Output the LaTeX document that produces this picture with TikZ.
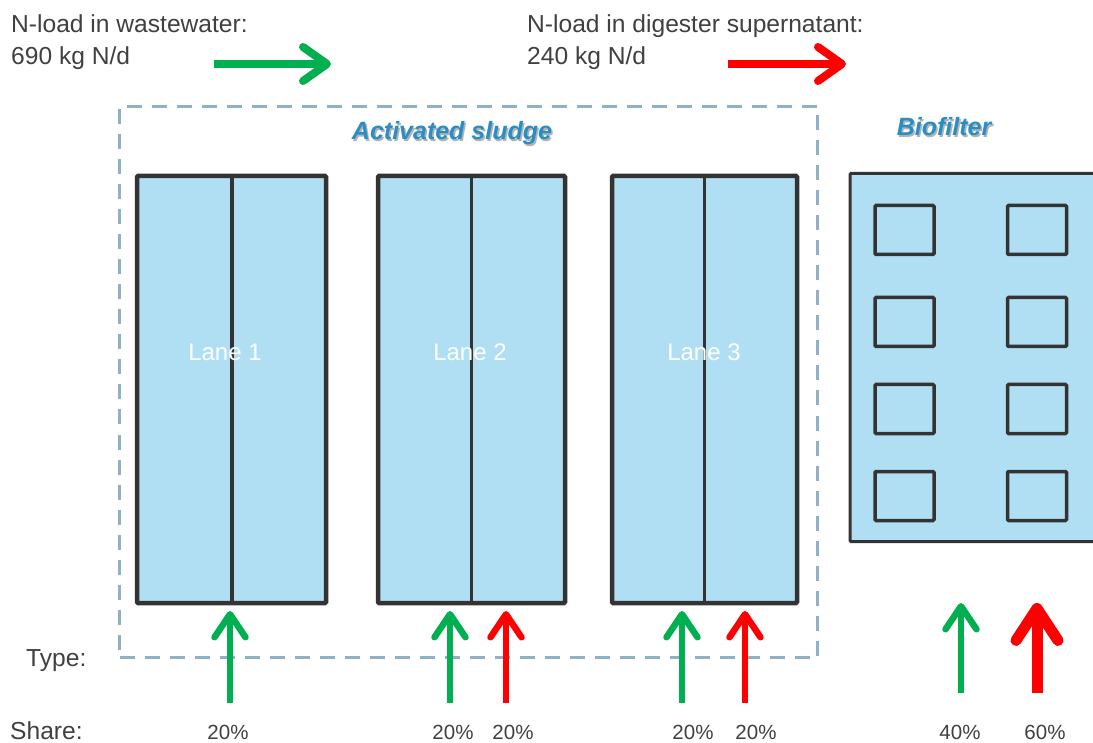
\documentclass[tikz,border=0pt]{standalone}
\usepackage{fontspec}
\setmainfont{Liberation Sans}
\usetikzlibrary{arrows.meta}
\definecolor{txt}{HTML}{404040}
\definecolor{tank}{HTML}{B0DFF4}
\definecolor{edge}{HTML}{333333}
\definecolor{gr}{HTML}{00B050}
\definecolor{rd}{HTML}{FF0000}
\definecolor{ttl}{HTML}{2A8EC6}
\definecolor{dsh}{HTML}{8FB1C3}
\tikzset{
  lbl/.style={text=txt, font=\fontsize{24.6}{28}\selectfont, inner sep=0pt},
  pct/.style={text=txt, font=\fontsize{20.5}{24}\selectfont, inner sep=0pt, anchor=base},
  ttlstyle/.style={text=ttl, font=\fontsize{25}{28}\selectfont\bfseries\itshape, inner sep=0pt, anchor=base},
  shd/.style={text=black!30, font=\fontsize{25}{28}\selectfont\bfseries\itshape, inner sep=0pt, anchor=base},
  lane/.style={draw=edge, fill=tank, line width=4.5pt, rounded corners=1pt, inner sep=0pt, outer sep=0pt},
  lanetxt/.style={text=white, font=\fontsize{24}{28}\selectfont, inner sep=0pt, anchor=base},
  cell/.style={draw=edge, line width=3.5pt, minimum width=59pt, minimum height=49pt, inner sep=0pt, rounded corners=1pt},
  harrow/.style={line width=8pt, -{Straight Barb[length=24pt,width=34pt,round]}},
  varrow/.style={line width=6.5pt, -{Straight Barb[length=23pt,width=31pt,round]}},
  bigarrow/.style={line width=11pt, -{Straight Barb[length=32pt,width=42pt,round]}},
}
\begin{document}
\begin{tikzpicture}[x=1pt,y=-1pt]
\useasboundingbox (0,0) rectangle (1093,743);
\clip (0,0) rectangle (1093,743);
% top texts
\node[lbl, anchor=base west] (wwa) at (11,33) {N-load in wastewater:};
\node[lbl, anchor=base west] (wwb) at (11,65) {690 kg N/d};
\node[lbl, anchor=base west] (dsa) at (527,33) {N-load in digester supernatant:};
\node[lbl, anchor=base west] (dsb) at (527,65) {240 kg N/d};
\coordinate (ga) at (214,64); \coordinate (gb) at (331,64);
\coordinate (ra) at (728,64); \coordinate (rb) at (846,64);
\draw[harrow, gr] (ga) -- (gb);
\draw[harrow, rd] (ra) -- (rb);
% dashed box
\node[draw=dsh, line width=3pt, dash pattern=on 15pt off 10pt, minimum width=698pt, minimum height=551pt, inner sep=0pt] (as) at (468.5,382) {};
\node[shd] (asshadow) at (453.5,141.5) {Activated sludge};
\node[ttlstyle] (astitle) at (452,140) {Activated sludge};
\node[shd] (bfshadow) at (945.5,137.5) {Biofilter};
\node[ttlstyle] (bftitle) at (944,136) {Biofilter};
% lanes
\node[lane, minimum width=189pt, minimum height=427pt] (l1) at (231.5,389.5) {};
\node[lane, minimum width=187pt, minimum height=427pt] (l2) at (471.5,389.5) {};
\node[lane, minimum width=185pt, minimum height=427pt] (l3) at (704.5,389.5) {};
\draw[edge, line width=3.5pt] (l1.north) ++(0.5,0) -- ++(0,427);
\draw[edge, line width=3.5pt] (l2.north) -- (l2.south);
\draw[edge, line width=3.5pt] (l3.north) -- (l3.south);
\node[lanetxt] (t1) at (225,361) {Lane 1};
\node[lanetxt] (t2) at (470,361) {Lane 2};
\node[lanetxt] (t3) at (704,361) {Lane 3};
% biofilter
\node[draw=edge, fill=tank, line width=3pt, minimum width=260pt, minimum height=368pt, inner sep=0pt, rounded corners=1pt] (bf) at (980,357.5) {};
\node[cell] (c11) at (904.5,230) {};
\node[cell] (c12) at (1037,230) {};
\node[cell] (c21) at (904.5,322) {};
\node[cell] (c22) at (1037,322) {};
\node[cell] (c31) at (904.5,409) {};
\node[cell] (c32) at (1037,409) {};
\node[cell] (c41) at (904.5,496) {};
\node[cell] (c42) at (1037,496) {};
% labels
\node[lbl, anchor=base west] (type) at (26,666) {Type:};
\node[lbl, anchor=base west] (share) at (10,739) {Share:};
% vertical arrows
\coordinate (a1s) at (230,703); \coordinate (a1e) at (230,611);
\coordinate (a2s) at (450,703); \coordinate (a2e) at (450,611);
\coordinate (a3s) at (506,703); \coordinate (a3e) at (506,611);
\coordinate (a4s) at (682,703); \coordinate (a4e) at (682,611);
\coordinate (a5s) at (745,703); \coordinate (a5e) at (745,611);
\coordinate (a6s) at (961,693); \coordinate (a6e) at (961,603);
\coordinate (a7s) at (1037,693); \coordinate (a7e) at (1037,603);
\draw[varrow, gr] (a1s) -- (a1e);
\draw[varrow, gr] (a2s) -- (a2e);
\draw[varrow, rd] (a3s) -- (a3e);
\draw[varrow, gr] (a4s) -- (a4e);
\draw[varrow, rd] (a5s) -- (a5e);
\draw[varrow, gr] (a6s) -- (a6e);
\draw[bigarrow, rd] (a7s) -- (a7e);
% percentages
\node[pct] (p1) at (228,739) {20\%};
\node[pct] (p2) at (453,739) {20\%};
\node[pct] (p3) at (513,739) {20\%};
\node[pct] (p4) at (693,739) {20\%};
\node[pct] (p5) at (756,739) {20\%};
\node[pct] (p6) at (960,739) {40\%};
\node[pct] (p7) at (1045,739) {60\%};
\end{tikzpicture}
\end{document}
